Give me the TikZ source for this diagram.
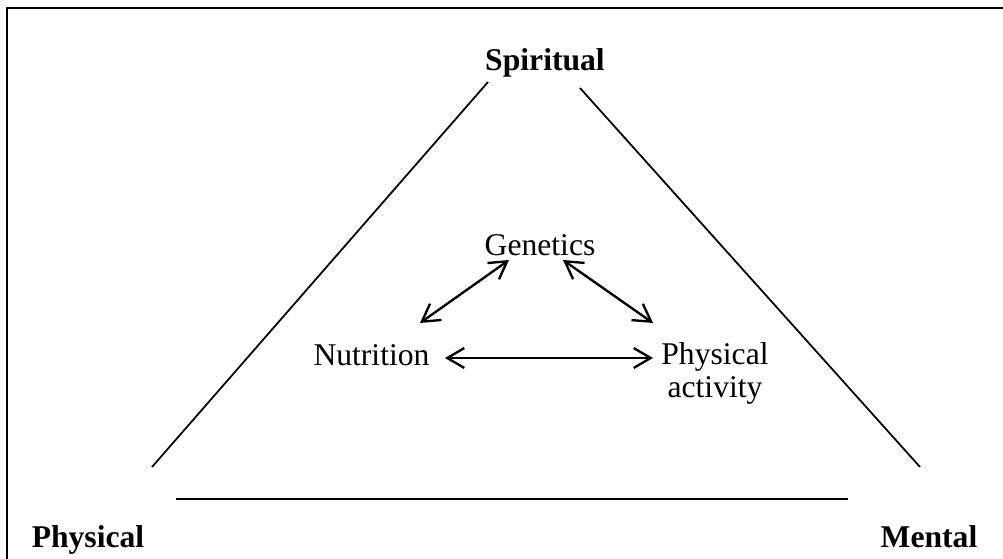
\documentclass[tikz,border=0pt]{standalone}
\usepackage{fontspec}
\setmainfont{Liberation Serif}
\usetikzlibrary{arrows.meta,calc}

\begin{document}
\begin{tikzpicture}[x=0.03cm, y=-0.03cm,
    factor/.style={font=\fontsize{27}{28}\selectfont, inner sep=0pt, anchor=base},
    pillar/.style={factor, font=\fontsize{27}{28}\selectfont\bfseries},
    link/.style={{Straight Barb[length=14.5pt,width=17pt]}-{Straight Barb[length=14.5pt,width=17pt]}, line width=2pt},
    side/.style={line width=1.5pt}]
    \useasboundingbox (0,0) rectangle (1003,559);
    \draw[line width=2pt] (7,559) -- (7,8) -- (1003,8);

    \draw 
    (545, 70) node[pillar](S){Spiritual}
    (88, 547) node[pillar](P){Physical}
    (929, 547) node[pillar](M){Mental}
    (540, 255) node[factor](G){Genetics}
    (371.5, 365) node[factor](N){Nutrition}
    (715, 397) node[factor, align=center](A){Physical\\activity};

    % triangle
    \coordinate (tl) at (488,82);
    \coordinate (bl) at (152,467);
    \coordinate (tr) at (580,88);
    \coordinate (br) at (920,467);
    \coordinate (l) at (176,499);
    \coordinate (r) at (848,499);
    \draw[side] (tl) -- (bl);
    \draw[side] (tr) -- (br);
    \draw[side] (l) -- (r);

    \draw[link] ($(N.base)+(48.5,-42)$) -- ($(G.base)+(-31,5)$);
    \draw[link] ($(G.base)+(23,5)$) -- ($(A.base)+(-62,-74)$);
    \draw[link] ($(N.base)+(73.5,-7)$) -- ($(A.base)+(-62,-39)$);

  \end{tikzpicture}
\end{document}
